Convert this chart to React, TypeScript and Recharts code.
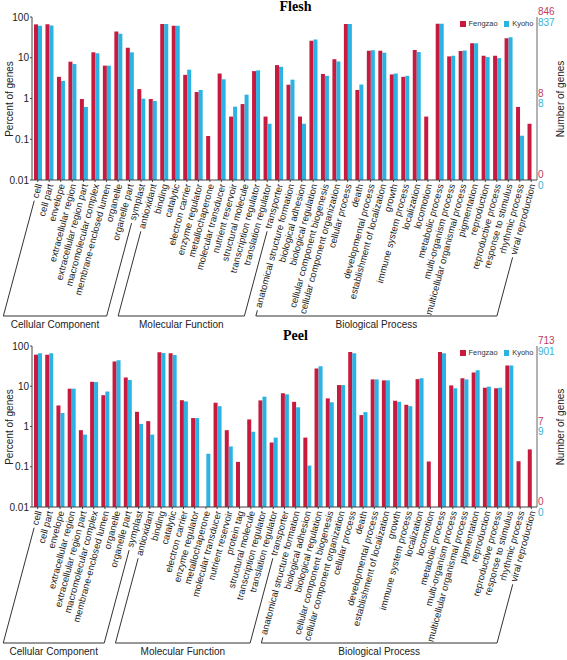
import React from 'react';
import { BarChart, Bar, XAxis, YAxis } from 'recharts';

// GO-Kategorien
const ccTerms = [
  'cell', 'cell part', 'envelope', 'extracellular region', 'extracellular region part',
  'macromolecular complex', 'membrane-enclosed lumen', 'organelle', 'organelle part', 'symplast',
];
const mfFleshTerms = [
  'antioxidant', 'binding', 'catalytic', 'electron carrier', 'enzyme regulator', 'metallochaperone',
  'molecular transducer', 'nutrient reservoir', 'structural molecule', 'transcription regulator',
  'translation regulator', 'transporter',
];
const mfPeelTerms = [
  'antioxidant', 'binding', 'catalytic', 'electron carrier', 'enzyme regulator', 'metallochaperone',
  'molecular transducer', 'nutrient reservoir', 'protein tag', 'structural molecule',
  'transcription regulator', 'translation regulator', 'transporter',
];
const bpTerms = [
  'anatomical structure formation', 'biological adhesion', 'biological regulation',
  'cellular component biogenesis', 'cellular component organization', 'cellular process', 'death',
  'developmental process', 'establishment of localization', 'growth', 'immune system process',
  'localization', 'locomotion', 'metabolic process', 'multi-organism process',
  'multicellular organismal process', 'pigmentation', 'reproduction', 'reproductive process',
  'response to stimulus', 'rhythmic process', 'viral reproduction',
];
const groupNames = ['Cellular Component', 'Molecular Function', 'Biological Process'];
const seriesNames = ['Fengzao', 'Kyoho'];

// Prozent der Gene (Flesh)
const fleshFengzao = [
  66, 66, 3.4, 8.0, 0.97, 13.6, 6.4, 44, 17.7, 1.7,
  0.97, 67, 61, 3.8, 1.44, 0.12, 4.1, 0.36, 0.73, 4.7, 0.36, 6.6,
  2.18, 0.36, 26, 4.0, 9.2, 67, 1.62, 14.9, 14.9, 3.9, 3.4, 15.5, 0.36, 68.5, 10.8, 14.6, 22.6,
  11.2, 11.2, 30, 0.62, 0.24,
];
const fleshKyoho = [
  61, 62, 2.7, 7.0, 0.62, 12.9, 6.4, 39, 13.6, 0.99,
  0.87, 67, 61, 5.1, 1.62, null, 2.96, 0.63, 1.24, 4.9, 0.24, 6.0,
  2.9, 0.24, 28, 3.6, 8.1, 67, 2.2, 15.2, 13.3, 4.1, 3.6, 13.8, null, 68.5, 11.2, 15, 22.6,
  10.4, 9.8, 32, 0.122, null,
];

// Prozent der Gene (Peel)
const peelFengzao = [
  61, 61, 3.33, 8.7, 0.81, 12.9, 6.0, 41, 16.6, 2.32,
  1.36, 69.5, 66, 4.5, 1.62, null, 3.9, 0.81, 0.132, 1.5, 4.45, 0.4, 6.7,
  4.1, 0.53, 27.5, 5.0, 10.7, 71, 1.92, 14.8, 14, 4.36, 3.47, 15, 0.135, 71, 10.5, 15.7, 22,
  9.2, 8.9, 33, 0.137, 0.27,
];
const peelKyoho = [
  66, 66, 2.15, 8.7, 0.63, 12.7, 7.4, 44, 14.3, 1.16,
  0.63, 67, 60, 4.2, 1.62, 0.21, 3.2, 0.32, null, 0.74, 5.5, 0.53, 6.3,
  3.0, 0.107, 31.5, 4.0, 10.7, 66, 2.28, 14.8, 14, 4.1, 3.2, 15.7, null, 66, 8.9, 14.8, 25,
  9.8, 9.2, 33, null, null,
];

// Achsenbeschriftungen
const pctTicks = [0.01, 0.1, 1, 10, 100];
const genesTicks = [100, 1, 0.01];
const fleshGenesFengzao = ['846', '8', '0'];
const fleshGenesKyoho = ['837', '8', '0'];
const peelGenesFengzao = ['713', '7', '0'];
const peelGenesKyoho = ['901', '9', '0'];

const RED = '#c8193f';
const BLUE = '#2bb3e3';
const W = 567;
const H = 330;
const LEFT_W = 32;
const RIGHT_W = 30;
const ANGLE = 75;
const FS = 9.5;
const FONT = '"Liberation Sans", Arial, sans-serif';

let ctx: CanvasRenderingContext2D | null = null;
const measure = (s: string) => {
  if (!ctx) ctx = document.createElement('canvas').getContext('2d');
  if (!ctx) return s.length * FS * 0.5;
  ctx.font = `${FS}px "Liberation Sans"`;
  return ctx.measureText(s).width;
};

interface Group { name: string; from: number; to: number; }

const makeGroups = (mf: string[]): Group[] => {
  const sizes = [ccTerms.length, mf.length, bpTerms.length];
  let start = 0;
  return sizes.map((n, i) => {
    const g = { name: groupNames[i], from: start, to: start + n - 1 };
    start += n;
    return g;
  });
};

interface PanelProps {
  title: string;
  mf: string[];
  fengzao: (number | null)[];
  kyoho: (number | null)[];
  genesF: string[];
  genesK: string[];
  marginTop: number;
  axisHeight: number;
  bracketY: number;
}

const Panel: React.FC<PanelProps> = ({ title, mf, fengzao, kyoho, genesF, genesK, marginTop, axisHeight, bracketY }) => {
  const categories = [...ccTerms, ...mf, ...bpTerms];
  const data = categories.map((name, i) => ({ name, Fengzao: fengzao[i], Kyoho: kyoho[i] }));
  const groups = makeGroups(mf);
  const step = (W - LEFT_W - RIGHT_W) / categories.length;
  const rad = (ANGLE * Math.PI) / 180;
  const ux = -Math.cos(rad);
  const uy = Math.sin(rad);
  const plotMid = marginTop + (H - marginTop - axisHeight) / 2;

  // Gedrehte Kategorien plus Klammern unter den Gruppen
  const renderTick = (p: any) => {
    const ax = p.x + 1;
    const ay = p.y;
    const label = String(p.payload.value);
    const parts: React.ReactNode[] = [
      <text key="t" x={ax} y={ay} dy="0.35em" textAnchor="end" fontSize={FS} fill="#222"
        transform={`rotate(-${ANGLE}, ${ax}, ${ay})`}>{label}</text>,
    ];
    const tb = (bracketY - ay) / uy;
    groups.forEach((g, gi) => {
      if (p.index === g.from || p.index === g.to) {
        const t0 = measure(label) + 3;
        parts.push(<line key={`s${gi}`} x1={ax + ux * t0} y1={ay + uy * t0} x2={ax + ux * tb} y2={bracketY}
          stroke="#333" strokeWidth={1} />);
      }
      if (p.index === g.to) {
        const xr = ax + ux * tb;
        const xl = xr - (g.to - g.from) * step;
        parts.push(<line key={`b${gi}`} x1={xl} y1={bracketY} x2={xr} y2={bracketY} stroke="#333" strokeWidth={1} />);
        parts.push(<text key={`g${gi}`} x={(xl + xr) / 2} y={bracketY + 12} textAnchor="middle" fontSize={10}
          fill="#222">{g.name}</text>);
      }
    });
    return <g>{parts}</g>;
  };

  const renderGenesTick = (p: any) => {
    const k = genesTicks.indexOf(p.payload.value);
    if (k < 0) return <g />;
    return (
      <g>
        <text x={p.x + 1} y={p.y - 5.5} dy="0.35em" fontSize={10} fill="#c03a5c">{genesF[k]}</text>
        <text x={p.x + 1} y={p.y + 5} dy="0.35em" fontSize={10} fill="#36b2d6">{genesK[k]}</text>
      </g>
    );
  };

  return (
    <div style={{ position: 'relative', width: W, height: H }}>
      <BarChart width={W} height={H} data={data} barGap={0} barSize={4}
        margin={{ top: marginTop, right: 0, bottom: 0, left: 0 }}>
        <XAxis xAxisId="cat" dataKey="name" interval={0} height={axisHeight} tickSize={2} tickMargin={2}
          axisLine={{ stroke: '#444' }} tickLine={{ stroke: '#444' }} tick={renderTick} />
        <XAxis xAxisId="top" dataKey="name" orientation="top" height={0} interval={0} mirror tickSize={2}
          axisLine={{ stroke: '#666' }} tickLine={{ stroke: '#444' }} tick={() => <g />} />
        <YAxis yAxisId="pct" type="number" scale="log" domain={[0.01, 100]} allowDataOverflow ticks={pctTicks}
          width={LEFT_W} tickSize={2} tickMargin={1} tickFormatter={(v: number) => String(v)}
          tick={{ fontSize: 10, fill: '#222' }} axisLine={{ stroke: '#444' }} tickLine={{ stroke: '#444' }} />
        <YAxis yAxisId="genes" orientation="right" type="number" scale="log" domain={[0.01, 100]} allowDataOverflow
          ticks={genesTicks} width={RIGHT_W} tickLine={false} tickSize={0} tickMargin={0}
          axisLine={{ stroke: '#666' }} tick={renderGenesTick} />
        <Bar xAxisId="cat" yAxisId="pct" dataKey="Fengzao" fill={RED} isAnimationActive={false} />
        <Bar xAxisId="cat" yAxisId="pct" dataKey="Kyoho" fill={BLUE} isAnimationActive={false} />
      </BarChart>
      {/* Legende oben rechts */}
      <div style={{ position: 'absolute', left: 460, top: marginTop + 3, display: 'flex', alignItems: 'center',
        fontSize: 7.5, color: '#333', lineHeight: '8px' }}>
        {seriesNames.map((n, i) => (
          <span key={n} style={{ display: 'inline-flex', alignItems: 'center', marginRight: 6 }}>
            <span style={{ display: 'inline-block', width: 5.5, height: 5.5, background: i === 0 ? RED : BLUE, marginRight: 3 }} />
            {n}
          </span>
        ))}
      </div>
      <div style={{ position: 'absolute', left: 0, top: marginTop - 17, width: W, textAlign: 'center',
        fontFamily: '"Liberation Serif", "Times New Roman", serif', fontWeight: 'bold', fontSize: 14,
        lineHeight: '14px', paddingLeft: 12 }}>{title}</div>
      <div style={{ position: 'absolute', left: 9, top: plotMid, fontSize: 10, color: '#222', whiteSpace: 'nowrap',
        transform: 'translate(-50%, -50%) rotate(-90deg)' }}>Percent of genes</div>
      <div style={{ position: 'absolute', left: 560, top: plotMid, fontSize: 10, color: '#222', whiteSpace: 'nowrap',
        transform: 'translate(-50%, -50%) rotate(-90deg)' }}>Number of genes</div>
    </div>
  );
};

export default function App() {
  return (
    <div style={{ position: 'absolute', left: 0, top: 0, width: W, height: 660, background: '#fff', fontFamily: FONT }}>
      <Panel title="Flesh" mf={mfFleshTerms} fengzao={fleshFengzao} kyoho={fleshKyoho}
        genesF={fleshGenesFengzao} genesK={fleshGenesKyoho} marginTop={17} axisHeight={150} bracketY={316} />
      <Panel title="Peel" mf={mfPeelTerms} fengzao={peelFengzao} kyoho={peelKyoho}
        genesF={peelGenesFengzao} genesK={peelGenesKyoho} marginTop={16} axisHeight={153} bracketY={313} />
    </div>
  );
}
